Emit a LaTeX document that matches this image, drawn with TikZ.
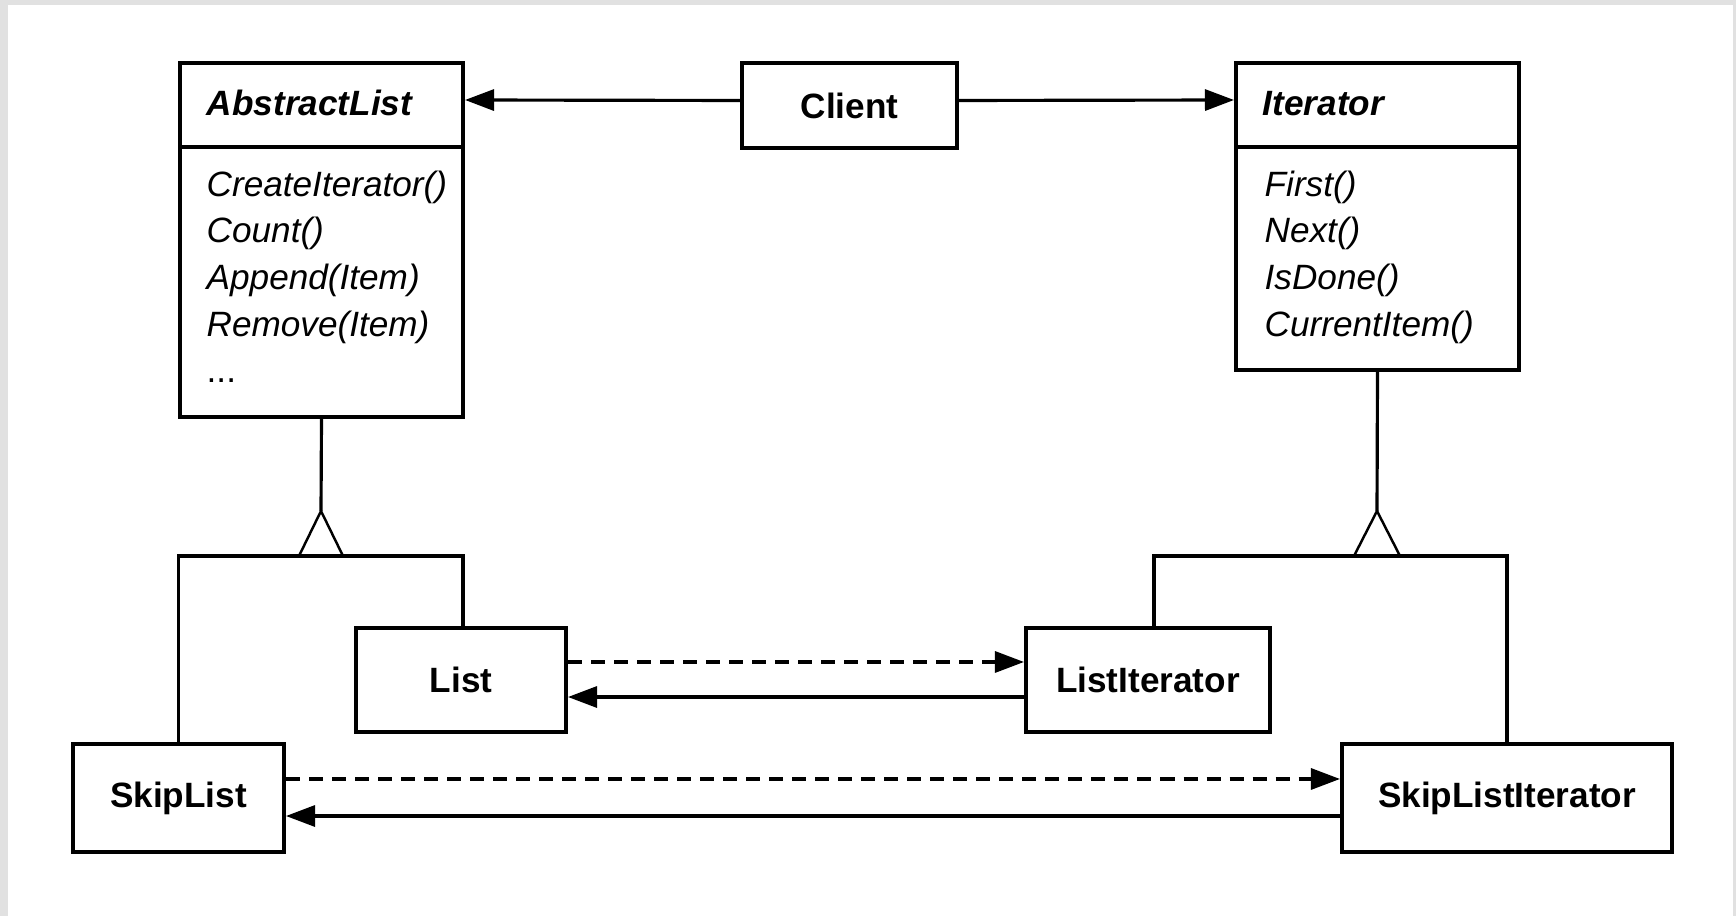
\documentclass[tikz,border=0pt]{standalone}
\usepackage{fontspec}
\setmainfont{Liberation Sans}
\usetikzlibrary{arrows.meta}
\definecolor{framegray}{HTML}{E1E1E1}

\begin{document}
\begin{tikzpicture}[x=0.01cm,y=-0.01cm,
  classbox/.style={draw,line width=1.1pt,rectangle,inner sep=0pt},
  classhead/.style={classbox,align=left,inner xsep=0.27cm,font=\bfseries\itshape,
    text height=0.26cm,text depth=0.05cm},
  navig/.style={-{Triangle[length=0.29cm,width=0.21cm]}},
  depend/.style={navig,dash pattern=on 0.14cm off 0.09cm},
  inherit/.style={line width=0.9pt},
  hollow/.style={line width=0.7pt}]
  \useasboundingbox (0,0) rectangle (1736,916);
  \fill[framegray] (0,0) rectangle (1736,916);
  \fill[white] (8,5) rectangle (1733,916);

  \begin{scope}[every node/.style={classbox}]
  \node[classhead,text width=2.29cm,minimum height=0.84cm] (AbstractList) at (321.5,105) {AbstractList};
  \node[minimum width=2.83cm,minimum height=2.70cm] (AbstractListBody) at (321.5,282) {};
  \node[classhead,text width=2.29cm,minimum height=0.84cm] (Iterator) at (1377.5,105) {Iterator};
  \node[minimum width=2.83cm,minimum height=2.23cm] (IteratorBody) at (1377.5,258.5) {};
  \node[font=\bfseries,minimum width=2.15cm,minimum height=0.85cm] (Client) at (849.5,105.5) {Client};
  \node[font=\bfseries,minimum width=2.10cm,minimum height=1.04cm] (List) at (461,680) {List};
  \node[font=\bfseries,minimum width=2.44cm,minimum height=1.04cm] (ListIterator) at (1148,680) {ListIterator};
  \node[font=\bfseries,minimum width=2.11cm,minimum height=1.08cm] (SkipList) at (178.5,798) {SkipList};
  \node[font=\bfseries,minimum width=3.30cm,minimum height=1.08cm] (SkipListIterator) at (1507,798) {SkipListIterator};
  \end{scope}

  \begin{scope}[every node/.style={anchor=base west,inner sep=0pt,font=\itshape}]
  \node (alCreate) at (206,197) {CreateIterator()};
  \node (alCount) at (206,243) {Count()};
  \node (alAppend) at (206,290) {Append(Item)};
  \node (alRemove) at (206,337) {Remove(Item)};
  \node[font=\upshape] (alMore) at (206,383) {...};
  \node (itFirst) at (1264,197) {First()};
  \node (itNext) at (1264,243) {Next()};
  \node (itDone) at (1264,290) {IsDone()};
  \node (itCurrent) at (1264,337) {CurrentItem()};
  \end{scope}

  \begin{scope}[every edge/.style={draw=black,line width=0.9pt}]
  \path ([yshift=0.05cm]Client.west) edge[navig] ([yshift=0.05cm]AbstractList.east);
  \path ([yshift=0.05cm]Client.east) edge[navig] ([yshift=0.05cm]Iterator.west);
  \path ([yshift=0.18cm]List.east) edge[depend] ([yshift=0.18cm]ListIterator.west);
  \path ([yshift=-0.17cm]ListIterator.west) edge[navig] ([yshift=-0.17cm]List.east);
  \path ([yshift=0.19cm]SkipList.east) edge[depend] ([yshift=0.19cm]SkipListIterator.west);
  \path ([yshift=-0.18cm]SkipListIterator.west) edge[navig] ([yshift=-0.18cm]SkipList.east);
  \end{scope}

  % generalisation: AbstractList
  \coordinate (alTip) at (321,511);
  \coordinate (alJoin) at (321,556);
  \draw[inherit] (AbstractListBody.south) -- (alTip);
  \draw[hollow] (alTip) -- ++(-22,45) -- ++(44,0) -- cycle;
  \draw[inherit] (SkipList.north) |- (alJoin) -| ([xshift=0.02cm]List.north);

  % generalisation: Iterator
  \coordinate (itTip) at (1377,511);
  \coordinate (itJoin) at (1377,556);
  \draw[inherit] (IteratorBody.south) -- (itTip);
  \draw[hollow] (itTip) -- ++(-23,45) -- ++(46,0) -- cycle;
  \draw[inherit] ([xshift=0.06cm]ListIterator.north) |- (itJoin) -| (SkipListIterator.north);
\end{tikzpicture}
\end{document}
